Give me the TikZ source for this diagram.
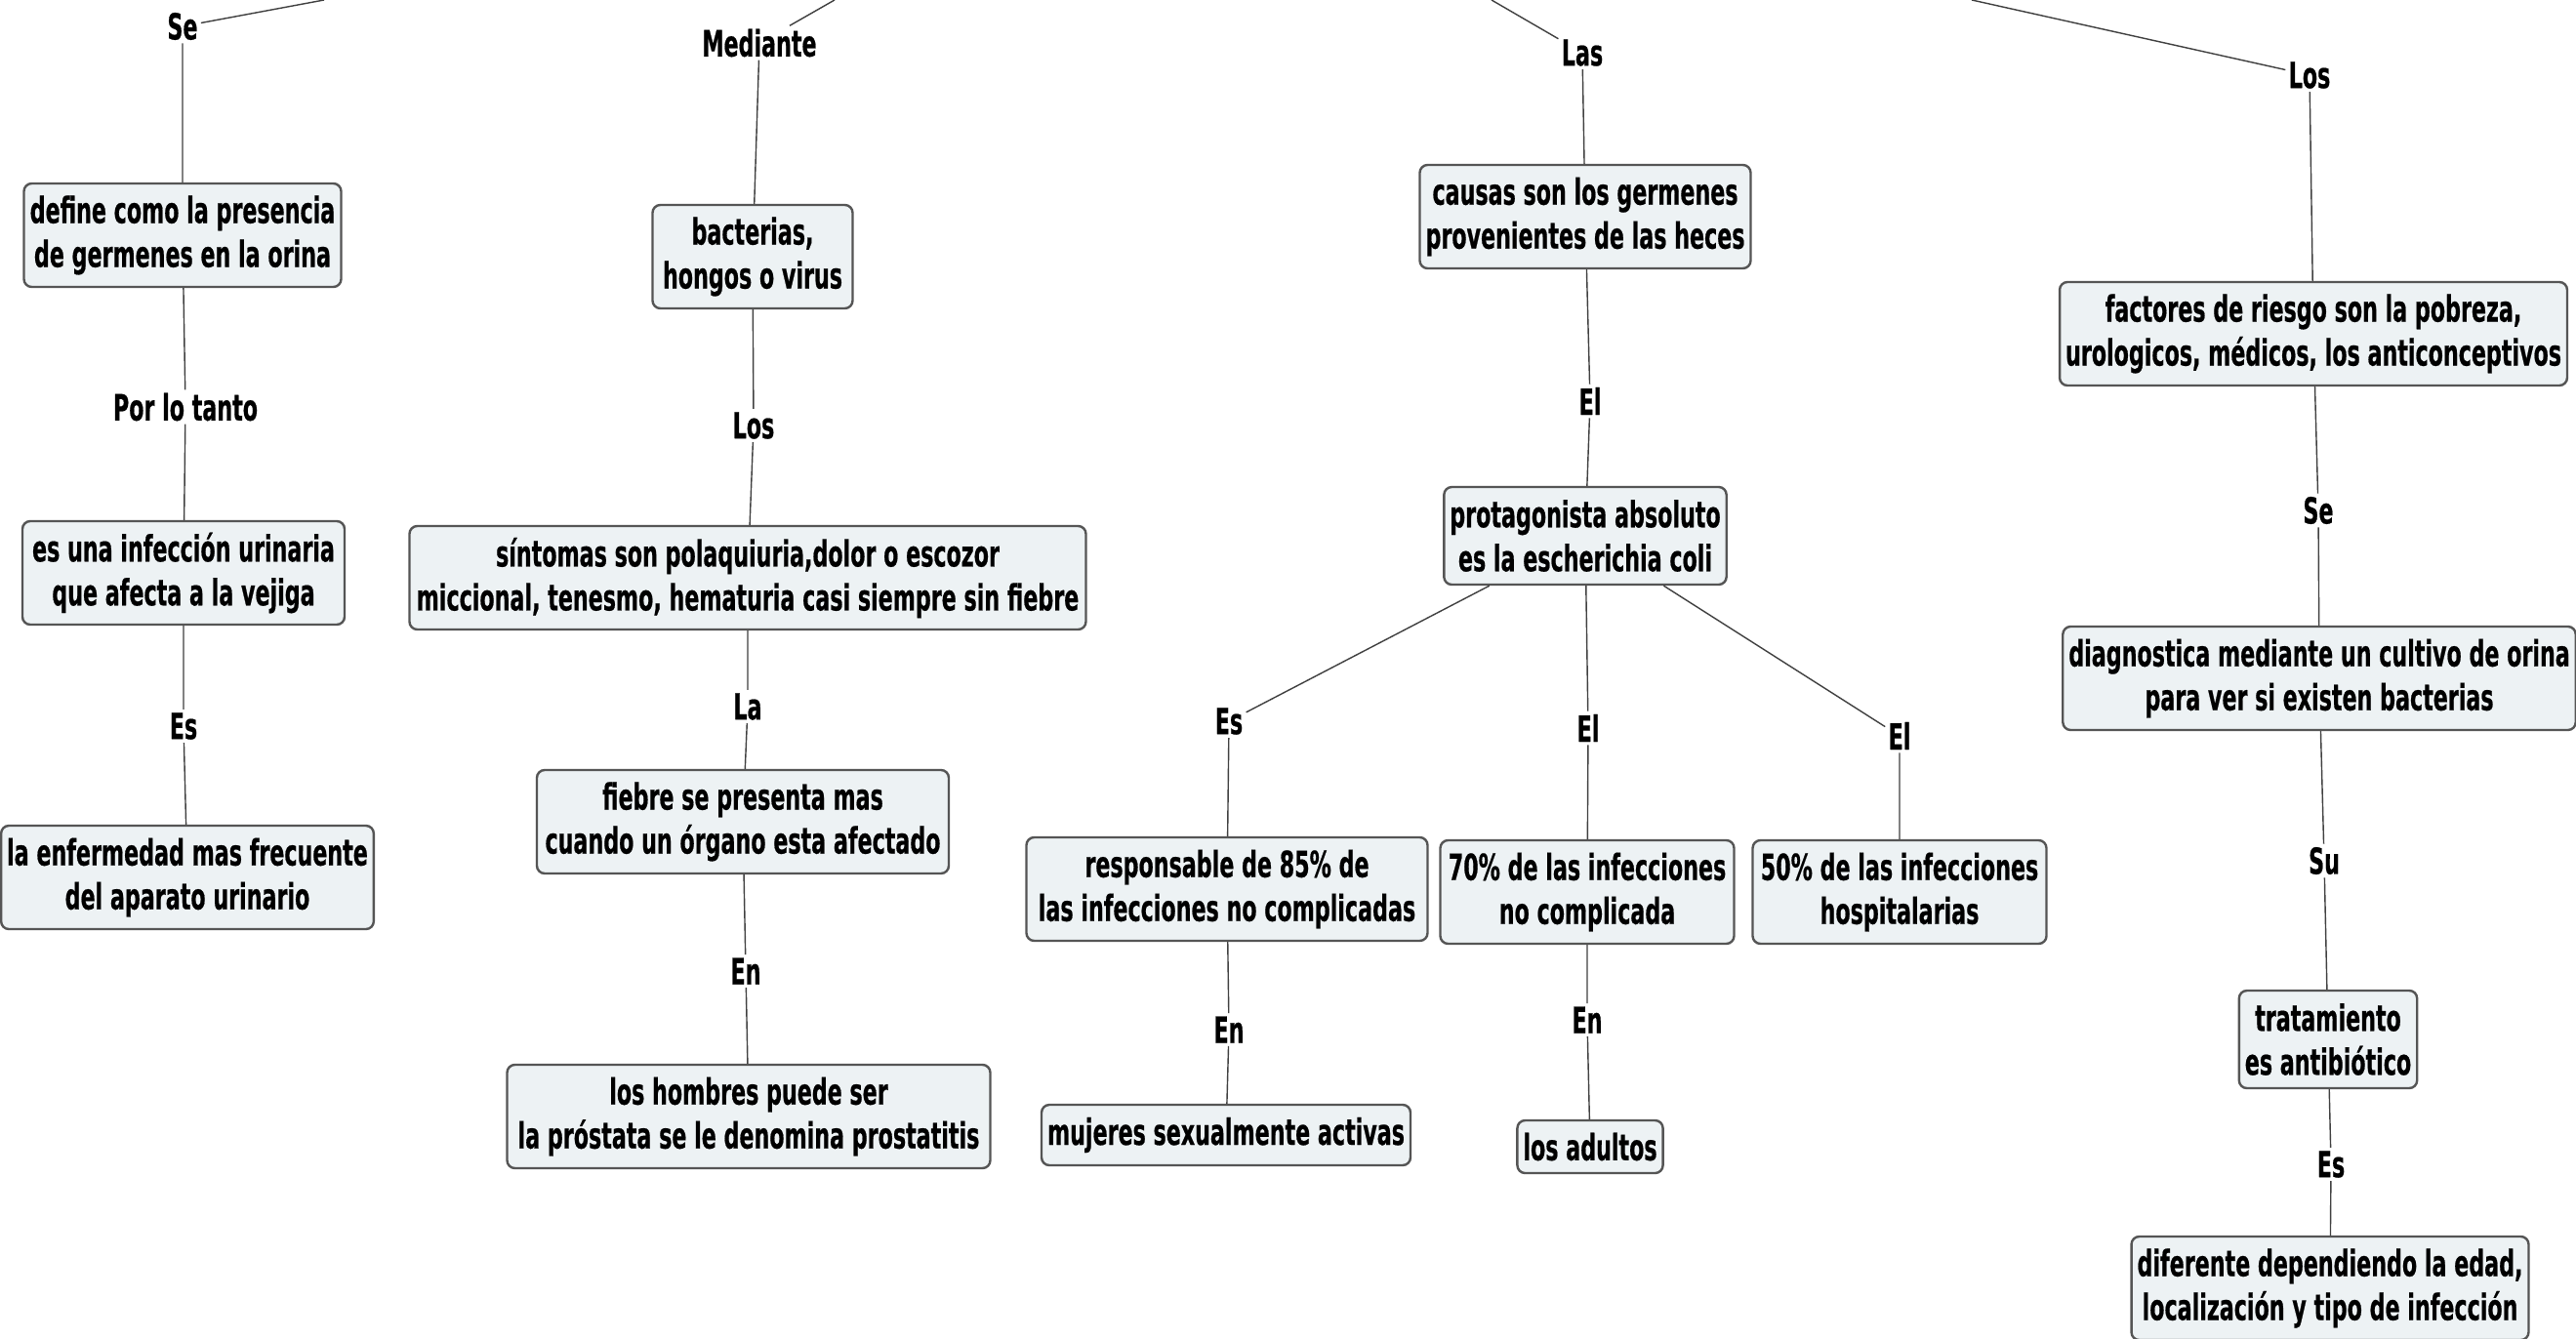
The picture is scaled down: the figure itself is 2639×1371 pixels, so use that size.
\documentclass[tikz,border=0pt]{standalone}
\usepackage{fontspec}
\setmainfont{DejaVu Sans}[FakeStretch=0.6, FakeBold=0.5]
\definecolor{boxfill}{HTML}{EDF2F4}
\definecolor{boxline}{HTML}{555555}
\definecolor{connline}{HTML}{404040}
\begin{document}
\begin{tikzpicture}[x=0.5pt,y=-0.5pt,
  every node/.style={font=\fontsize{18.5pt}{22.5pt}\selectfont\bfseries, text=black},
  box/.style={draw=boxline, line width=1.2pt, fill=boxfill, rounded corners=4pt, align=center, inner xsep=3pt, inner ysep=4pt, minimum height=53pt},
  one/.style={minimum height=31pt},
  lbl/.style={inner sep=1.5pt},
  conn/.style={draw=connline, line width=0.7pt}]
\useasboundingbox (0,0) rectangle (2639,1371);
\fill[white] (0,0) rectangle (2639,1371);

% free ends at top
\coordinate (tA) at (332,0);
\coordinate (tB) at (855,0);
\coordinate (tC) at (1528,0);
\coordinate (tD) at (2020,0);

% column 1
\node[lbl] (lSe1) at (187,27) {Se};
\node[box, minimum width=162.5pt] (A1) at (187,241) {define como la presencia\\de germenes en la orina};
\node[lbl] (lPor) at (190,417) {Por lo tanto};
\node[box, minimum width=165pt] (A2) at (188,587) {es una infección urinaria\\que afecta a la vejiga};
\node[lbl] (lEs1) at (188,744) {Es};
\node[box, minimum width=189.5pt] (A3) at (192,899) {la enfermedad mas frecuente\\del aparato urinario};

% column 2
\node[lbl] (lMed) at (778,44) {Mediante};
\node[box, minimum width=102.5pt] (B1) at (771,263) {bacterias,\\hongos o virus};
\node[lbl] (lLos2) at (772,436) {Los};
\node[box, minimum width=346.5pt] (B2) at (766,592) {síntomas son polaquiuria,dolor o escozor\\miccional, tenesmo, hematuria casi siempre sin fiebre};
\node[lbl] (lLa) at (766,724) {La};
\node[box, minimum width=211pt] (B3) at (761,842) {fiebre se presenta mas\\cuando un órgano esta afectado};
\node[lbl] (lEn2) at (764,995) {En};
\node[box, minimum width=247.5pt] (B4) at (767,1144) {los hombres puede ser\\la próstata se le denomina prostatitis};

% column 3
\node[lbl] (lLas) at (1621,54) {Las};
\node[box, minimum width=168.5pt] (C1) at (1624,222) {causas son los germenes\\provenientes de las heces};
\node[lbl] (lEl3) at (1629,411) {El};
\node[box, minimum width=144.5pt, minimum height=50pt] (C2) at (1624,549) {protagonista absoluto\\es la escherichia coli};
\node[lbl] (lEs3) at (1259,739) {Es};
\node[lbl] (lEl3b) at (1627,746) {El};
\node[lbl] (lEl3c) at (1946,754) {El};
\node[box, minimum width=205.5pt] (C3) at (1257,911) {responsable de 85\% de\\las infecciones no complicadas};
\node[lbl] (lEn3a) at (1259,1055) {En};
\node[box, one, minimum width=188.5pt] (C4) at (1256,1163) {mujeres sexualmente activas};
\node[box, minimum width=150.5pt] (C5) at (1626,914) {70\% de las infecciones\\no complicada};
\node[lbl] (lEn3b) at (1626,1045) {En};
\node[box, one, minimum width=74pt, minimum height=27pt] (C6) at (1629,1175) {los adultos};
\node[box, minimum width=150.5pt] (C7) at (1946,914) {50\% de las infecciones\\hospitalarias};

% column 4
\node[lbl] (lLos4) at (2366,77) {Los};
\node[box, minimum width=258.5pt] (D1) at (2370,342) {factores de riesgo son la pobreza,\\urologicos, médicos, los anticonceptivos};
\node[lbl] (lSe4) at (2375,523) {Se};
\node[box, minimum width=260pt] (D2) at (2376,695) {diagnostica mediante un cultivo de orina\\para ver si existen bacterias};
\node[lbl] (lSu) at (2381,882) {Su};
\node[box, minimum width=91pt, minimum height=50pt] (D3) at (2385,1065) {tratamiento\\es antibiótico};
\node[lbl] (lEs4) at (2388,1193) {Es};
\node[box, minimum width=203pt] (D4) at (2387,1320) {diferente dependiendo la edad,\\localización y tipo de infección};

% connectors
\path[conn] (tA) -- (lSe1) (lSe1) -- (A1) (A1) -- (lPor) (lPor) -- (A2) (A2) -- (lEs1) (lEs1) -- (A3);
\path[conn] (tB) -- (lMed) (lMed) -- (B1) (B1) -- (lLos2) (lLos2) -- (B2) (B2) -- (lLa) (lLa) -- (B3) (B3) -- (lEn2) (lEn2) -- (B4);
\path[conn] (tC) -- (lLas) (lLas) -- (C1) (C1) -- (lEl3) (lEl3) -- (C2)
  (C2) -- (lEs3) (lEs3) -- (C3) (C3) -- (lEn3a) (lEn3a) -- (C4)
  (C2) -- (lEl3b) (lEl3b) -- (C5) (C5) -- (lEn3b) (lEn3b) -- (C6)
  (C2) -- (lEl3c) (lEl3c) -- (C7);
\path[conn] (tD) -- (lLos4) (lLos4) -- (D1) (D1) -- (lSe4) (lSe4) -- (D2) (D2) -- (lSu) (lSu) -- (D3) (D3) -- (lEs4) (lEs4) -- (D4);
\end{tikzpicture}
\end{document}
